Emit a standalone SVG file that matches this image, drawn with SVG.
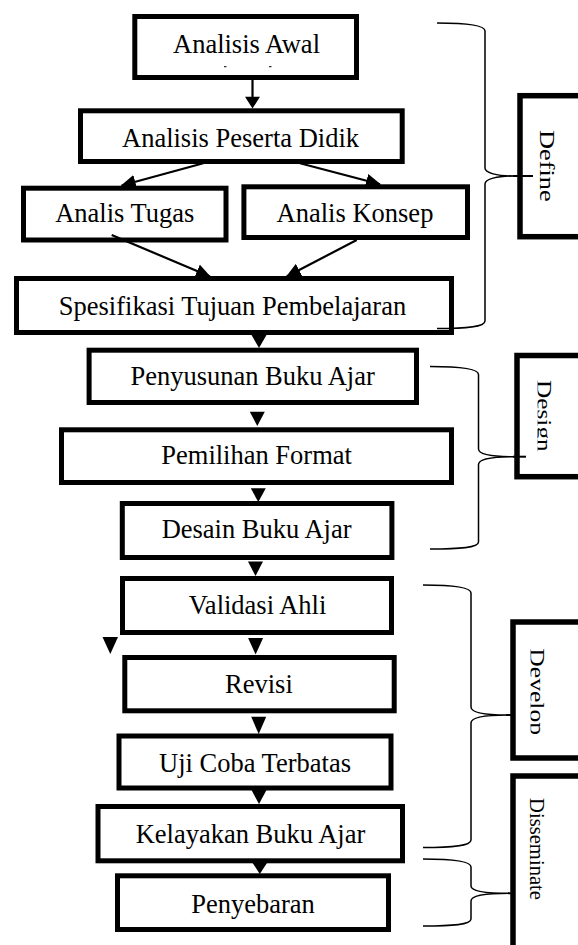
<svg xmlns="http://www.w3.org/2000/svg" width="578" height="945" viewBox="0 0 578 945">
<style>
  .box { fill: #fff; stroke: #000; stroke-width: 5; }
  .side { fill: #fff; stroke: #000; stroke-width: 5.5; }
  .lbl { font-family: "Liberation Serif", "Times New Roman", serif; font-size: 26.5px; fill: #000; text-anchor: middle; }
  .vlbl { font-family: "Liberation Serif", "Times New Roman", serif; fill: #000; }
  .brace { fill: none; stroke: #000; stroke-width: 1.5; }
  .tipline { stroke: #000; stroke-width: 2; }
  .conn { stroke: #000; stroke-width: 2.2; fill: none; }
  .head { fill: #000; stroke: none; }
</style>
<defs>
  <marker id="arr" viewBox="0 0 15 14" refX="14" refY="7" markerWidth="15" markerHeight="14" markerUnits="userSpaceOnUse" orient="auto">
    <path d="M0,0 L15,7 L0,14 Z" fill="#000"/>
  </marker>
  <clipPath id="clipDesign"><rect x="537.5" y="360" width="30" height="110"/></clipPath>
  <clipPath id="clipDevelop"><rect x="530.5" y="625" width="30" height="128"/></clipPath>
</defs>
<rect width="578" height="945" fill="#fff"/>

<g id="node-analisis-awal">
  <rect class="box" x="134.8" y="16.5" width="221.7" height="61"/>
  <text class="lbl" x="246.5" y="53.3">Analisis Awal</text>
  <line x1="224" y1="66.7" x2="226.5" y2="66.7" stroke="#000" stroke-width="1"/>
  <line x1="269" y1="66.7" x2="271.5" y2="66.7" stroke="#000" stroke-width="1"/>
</g>
<g id="node-analisis-peserta-didik">
  <rect class="box" x="80.5" y="110.8" width="321.7" height="50.7"/>
  <text class="lbl" x="240.5" y="146.7">Analisis Peserta Didik</text>
</g>
<g id="node-analis-tugas">
  <rect class="box" x="23.5" y="188.2" width="202.5" height="51.8"/>
  <text class="lbl" x="124.8" y="221.7">Analis Tugas</text>
</g>
<g id="node-analis-konsep">
  <rect class="box" x="243.9" y="186.8" width="223.6" height="50.7"/>
  <text class="lbl" x="355" y="221.7">Analis Konsep</text>
</g>
<g id="node-spesifikasi">
  <rect class="box" x="16.5" y="278.5" width="435" height="54"/>
  <text class="lbl" x="232.5" y="315">Spesifikasi Tujuan Pembelajaran</text>
</g>
<g id="node-penyusunan">
  <rect class="box" x="89.1" y="350.2" width="327.4" height="52.3"/>
  <text class="lbl" x="252.6" y="385">Penyusunan Buku Ajar</text>
</g>
<g id="node-pemilihan">
  <rect class="box" x="61.5" y="429.8" width="390" height="52.7"/>
  <text class="lbl" x="256.6" y="464">Pemilihan Format</text>
</g>
<g id="node-desain">
  <rect class="box" x="122.3" y="503.5" width="269.6" height="54"/>
  <text class="lbl" x="256.6" y="538.3">Desain Buku Ajar</text>
</g>
<g id="node-validasi">
  <rect class="box" x="122.5" y="578.5" width="269" height="54"/>
  <text class="lbl" x="257.5" y="614.3">Validasi Ahli</text>
</g>
<g id="node-revisi">
  <rect class="box" x="124.8" y="657.5" width="269.4" height="53.3"/>
  <text class="lbl" x="258.9" y="692.7">Revisi</text>
</g>
<g id="node-uji-coba">
  <rect class="box" x="119" y="736" width="272" height="52"/>
  <text class="lbl" x="255" y="771.7">Uji Coba Terbatas</text>
</g>
<g id="node-kelayakan">
  <rect class="box" x="98" y="806.5" width="304.5" height="54.3"/>
  <text class="lbl" x="250.5" y="843">Kelayakan Buku Ajar</text>
</g>
<g id="node-penyebaran">
  <rect class="box" x="117.5" y="875.8" width="271" height="53.7"/>
  <text class="lbl" x="253" y="912.5">Penyebaran</text>
</g>

<g id="phase-define">
  <rect class="side" x="520" y="95.7" width="80" height="141"/>
  <text class="vlbl" font-size="21.5" transform="translate(540,130) rotate(90)" textLength="71.7" lengthAdjust="spacingAndGlyphs">Define</text>
</g>
<g id="phase-design">
  <rect class="side" x="517" y="355.5" width="80" height="121.2"/>
  <g clip-path="url(#clipDesign)">
    <text class="vlbl" font-size="21.5" transform="translate(537,380) rotate(90)" textLength="71.7" lengthAdjust="spacingAndGlyphs">Design</text>
  </g>
</g>
<g id="phase-develop">
  <rect class="side" x="513" y="622" width="80" height="136"/>
  <g clip-path="url(#clipDevelop)">
    <text class="vlbl" font-size="20.5" transform="translate(530,648.3) rotate(90)" textLength="86.7" lengthAdjust="spacingAndGlyphs">Develop</text>
  </g>
</g>
<g id="phase-disseminate">
  <rect class="side" x="513" y="776" width="80" height="200"/>
  <text class="vlbl" font-size="20.5" transform="translate(530,798) rotate(90)" textLength="102" lengthAdjust="spacingAndGlyphs">Disseminate</text>
</g>

<g id="braces">
  <path class="brace" d="M437,23 C466,23 485,25 485,31 L485,168 C485,173 497,176 514,176 M514,176 C497,176 485,179 485,184 L485,321 C485,327 466,328.5 437,328.5"/>
  <line class="tipline" x1="513" y1="176" x2="533" y2="176"/>
  <path class="brace" d="M430,366.5 C459,366.5 478.5,368.5 478.5,374.5 L478.5,449 C478.5,454 490,456.7 514,456.7 M514,456.7 C490,456.7 478.5,459.5 478.5,464.5 L478.5,542 C478.5,548 459,549 430,549"/>
  <line class="tipline" x1="513" y1="456.7" x2="526" y2="456.7"/>
  <path class="brace" d="M423,585 C452,585 471,587 471,593 L471,707 C471,712 483,715 507,715 M507,715 C483,715 471,718 471,723 L471,840 C471,846 452,847.5 423,847.5"/>
  <line class="tipline" x1="506" y1="715" x2="513" y2="715"/>
  <path class="brace" d="M423,859 C452,859 471,861 471,867 L471,886 C471,891 483,893.3 509,893.3 M509,893.3 C483,893.3 471,896 471,901 L471,919 C471,925 452,926 423,926"/>
  <line class="tipline" x1="508" y1="893.3" x2="513" y2="893.3"/>
</g>

<g id="connectors">
  <line class="conn" x1="252.5" y1="80" x2="252.5" y2="98"/>
  <polygon class="head" points="245,96.7 260,96.7 252.5,108.5"/>
  <line class="conn" x1="203.3" y1="163.3" x2="121.7" y2="185.5" marker-end="url(#arr)"/>
  <line class="conn" x1="300" y1="163.3" x2="380" y2="184.3" marker-end="url(#arr)"/>
  <line class="conn" x1="111.7" y1="235" x2="210" y2="276.5" marker-end="url(#arr)"/>
  <line class="conn" x1="356.7" y1="240" x2="286.7" y2="276.5" marker-end="url(#arr)"/>
  <polygon class="head" points="251.5,335 266.5,335 259,348"/>
  <polygon class="head" points="249.8,411.7 264.8,411.7 257.3,426"/>
  <polygon class="head" points="250.8,488.3 265.8,488.3 258.3,502"/>
  <polygon class="head" points="248,561.5 263,561.5 255.5,576"/>
  <polygon class="head" points="248.1,638 263.1,638 255.6,654.5"/>
  <polygon class="head" points="102.5,637 118,637 110.3,654"/>
  <polygon class="head" points="251.2,716.7 266.2,716.7 258.7,734"/>
  <polygon class="head" points="251.5,790 266.5,790 259,804"/>
  <polygon class="head" points="252.3,862.5 267.3,862.5 259.8,874"/>
</g>
</svg>
